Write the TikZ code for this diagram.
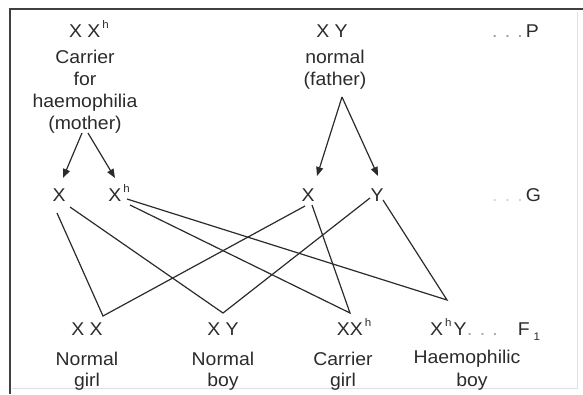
\documentclass[tikz,border=0pt]{standalone}
\usepackage{fontspec}
\setmainfont{Liberation Sans}[FakeStretch=1.05]
\usetikzlibrary{arrows.meta}
\definecolor{ink}{HTML}{2B2B2B}
\newcommand{\hsup}{\hspace{2pt}\raisebox{0.45em}{\fontsize{11}{11}\selectfont h}}
\begin{document}
\begin{tikzpicture}[x=1pt,y=-1pt,
  every node/.style={inner sep=0pt, text=ink},
  lbl/.style={anchor=base},
  lblw/.style={anchor=base west},
  link/.style={draw=ink, line width=1.2pt},
  arr/.style={draw=ink, line width=1.2pt, -{Triangle[length=9pt,width=7pt]}},
  faint/.style={text=black!35},
  font=\fontsize{18.5}{22}\selectfont]
\useasboundingbox (0,0) rectangle (583,394);
% frame
\draw[black!75, line width=2pt] (10,394) -- (10,9) -- (583,9);
\draw[black!12, line width=1pt] (577,12) -- (577,388) -- (12,388);

% parents
\node[lbl] (mom)  at (89,37)  {X X\hsup};
\node[lbl] (momA) at (85,63)  {Carrier};
\node[lbl] (momB) at (85,85)  {for};
\node[lbl] (momC) at (85,107) {haemophilia};
\node[lbl] (momD) at (85,129) {(mother)};

\node[lbl] (dad)  at (332,37) {X Y};
\node[lbl] (dadA) at (335,63) {normal};
\node[lbl] (dadB) at (335,85) {(father)};

\node[lblw] (labP) at (492,37) {\textcolor{black!40}{. . .}\,P};

% gametes
\node[lbl] (gmX)  at (59,201)  {X};
\node[lbl] (gmXh) at (119,201) {X\hsup};
\node[lbl] (gfX)  at (308,201) {X};
\node[lbl] (gfY)  at (377,201) {Y};
\node[lblw] (labG) at (492,201) {\textcolor{black!18}{. . .}\,G};

% offspring
\node[lbl] (oXX)   at (87,335)  {X X};
\node[lbl] (oXXa)  at (87,365)  {Normal};
\node[lbl] (oXXb)  at (87,386)  {girl};
\node[lbl] (oXY)   at (223,335) {X Y};
\node[lbl] (oXYa)  at (223,365) {Normal};
\node[lbl] (oXYb)  at (223,386) {boy};
\node[lbl] (oXXh)  at (354,335) {XX\hsup};
\node[lbl] (oXXha) at (343,365) {Carrier};
\node[lbl] (oXXhb) at (343,386) {girl};
\node[lblw] (oXhY) at (430,335) {X\hsup\hspace{2pt}Y};
\node[lblw] (labF) at (467,335) {\textcolor{black!35}{. . .}\hspace{20pt}F\hspace{4pt}\raisebox{-0.3em}{\fontsize{11}{11}\selectfont 1}};
\node[lbl] (oXhYa) at (467,363) {Haemophilic};
\node[lbl] (oXhYb) at (472,386) {boy};

% connector end points
\coordinate (mS1) at (82,133);
\coordinate (mS2) at (88,133);
\coordinate (mT1) at (63,178);
\coordinate (mT2) at (115,178);
\coordinate (fS)  at (342,97);
\coordinate (fT1) at (317,176);
\coordinate (fT2) at (378,176);

\coordinate (gmXa)  at (57,213);
\coordinate (gmXb)  at (70,207);
\coordinate (gmXha) at (127,199);
\coordinate (gmXhb) at (130,205);
\coordinate (gfXa)  at (305,206);
\coordinate (gfXb)  at (312,205);
\coordinate (gfYa)  at (370,198);
\coordinate (gfYb)  at (383,200);

\coordinate (toXX)  at (103,316);
\coordinate (toXY)  at (223,313);
\coordinate (toXXh) at (350,313);
\coordinate (toXhY) at (447,300);

% arrows
\draw[arr] (mS1) -- (mT1);
\draw[arr] (mS2) -- (mT2);
\draw[arr] (fS) -- (fT1);
\draw[arr] (fS) -- (fT2);

% crosses
\draw[link] (gmXa) -- (toXX) -- (gfXa);
\draw[link] (gmXb) -- (toXY) -- (gfYa);
\draw[link] (gmXhb) -- (toXXh) -- (gfXb);
\draw[link] (gmXha) -- (toXhY) -- (gfYb);
\end{tikzpicture}
\end{document}
